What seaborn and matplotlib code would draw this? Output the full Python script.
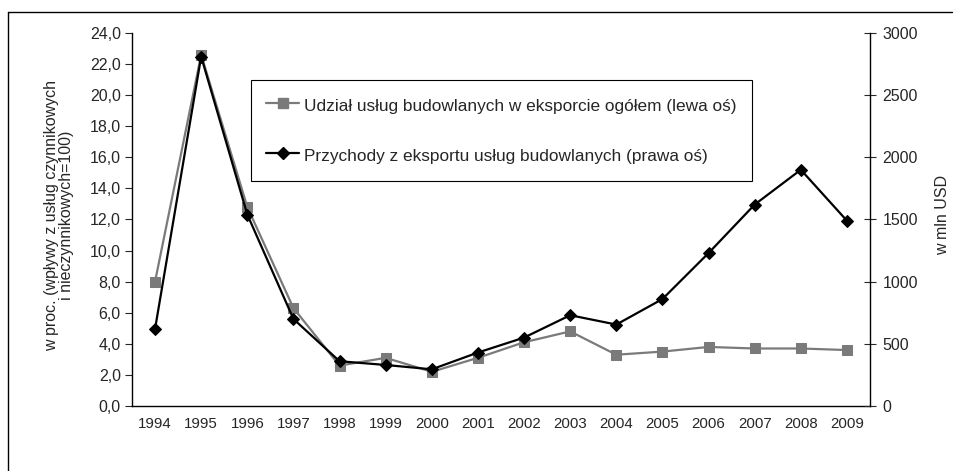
import matplotlib
matplotlib.use("Agg")
import matplotlib.pyplot as plt
import seaborn as sns
import pandas as pd
from matplotlib.lines import Line2D
from matplotlib.ticker import FuncFormatter, FixedLocator

years = [1994, 1995, 1996, 1997, 1998, 1999, 2000, 2001,
         2002, 2003, 2004, 2005, 2006, 2007, 2008, 2009]
share_pct = [8.0, 22.6, 12.8, 6.3, 2.6, 3.1, 2.2, 3.1,
             4.1, 4.8, 3.3, 3.5, 3.8, 3.7, 3.7, 3.6]
revenue_musd = [620, 2810, 1540, 700, 360, 330, 295, 430,
                550, 730, 655, 860, 1230, 1620, 1900, 1490]

label_share = "Udział usług budowlanych w eksporcie ogółem (lewa oś)"
label_rev = "Przychody z eksportu usług budowlanych (prawa oś)"

df = pd.DataFrame({"pos": range(len(years)), "year": years,
                   "share": share_pct, "revenue": revenue_musd})

sns.set_style("white")
plt.rcParams["font.family"] = ["Liberation Sans", "DejaVu Sans"]
plt.rcParams["font.size"] = 11.5

gray = "#7a7a7a"

fig = plt.figure(figsize=(9.55, 4.71), dpi=100)
ax = fig.add_axes([0.1382, 0.138, 0.7728, 0.792])
ax2 = ax.twinx()

sns.lineplot(data=df, x="pos", y="share", ax=ax, color=gray, marker="s",
             markersize=7, markeredgecolor=gray, linewidth=1.6, zorder=2)
sns.lineplot(data=df, x="pos", y="revenue", ax=ax2, color="black", marker="D",
             markersize=6.5, markeredgecolor="black", linewidth=1.6, zorder=3)

ax.set_xlim(-0.5, len(years) - 0.5)
ax.set_ylim(0, 24)
ax2.set_ylim(0, 3000)
ax.set_yticks([i * 2 for i in range(13)])
ax.yaxis.set_major_formatter(FuncFormatter(lambda v, p: f"{v:.1f}".replace(".", ",")))
ax2.set_yticks([0, 500, 1000, 1500, 2000, 2500, 3000])

ax.xaxis.set_major_locator(FixedLocator([i - 0.5 for i in range(len(years) + 1)]))
ax.xaxis.set_minor_locator(FixedLocator(list(range(len(years)))))
ax.set_xticklabels([], minor=False)
ax.set_xticklabels([str(y) for y in years], minor=True)
ax.tick_params(axis="x", which="major", direction="inout", length=8, width=0.8, colors="black")
ax.tick_params(axis="x", which="minor", length=0, pad=8, labelsize=10.8)
ax.tick_params(axis="y", direction="out", length=5, width=0.8, pad=3, left=True, labelsize=11.5)
ax2.tick_params(axis="y", direction="inout", length=8, width=0.8, pad=5, right=True, labelsize=11.5)

for a in (ax, ax2):
    for s in a.spines.values():
        s.set_visible(False)
ax.spines["left"].set_visible(True)
ax.spines["bottom"].set_visible(True)
ax2.spines["right"].set_visible(True)
for s in ("left", "bottom"):
    ax.spines[s].set_color("black")
    ax.spines[s].set_linewidth(1.0)
ax2.spines["right"].set_color("black")
ax2.spines["right"].set_linewidth(1.0)

ax.set_xlabel("")
ax.set_ylabel("w proc. (wpływy z usług czynnikowych\ni nieczynnikowych=100)",
              fontsize=11.5, linespacing=1.0)
ax.yaxis.set_label_coords(-0.078, 0.512)
ax2.set_ylabel("w mln USD", fontsize=11.5)
ax2.yaxis.set_label_coords(1.088, 0.512)

handles = [
    Line2D([], [], color=gray, marker="s", markersize=7, linewidth=1.6, markeredgecolor=gray),
    Line2D([], [], color="black", marker="D", markersize=6.5, linewidth=1.6),
]
leg = ax2.legend(handles, [label_share, label_rev], loc="upper left",
                 bbox_to_anchor=(0.161, 0.874), frameon=True, fancybox=False,
                 edgecolor="black", framealpha=1, fontsize=12.4,
                 handlelength=1.9, handletextpad=0.3, labelspacing=1.75,
                 handleheight=1.4, borderpad=0.9, borderaxespad=0)
leg.get_frame().set_linewidth(0.8)

# outer frame of the figure
fig.add_artist(Line2D([8 / 955, 952 / 955], [1 - 12 / 471, 1 - 12 / 471],
                      color="black", linewidth=1.0, transform=fig.transFigure))
fig.add_artist(Line2D([8 / 955, 8 / 955], [0, 1 - 12 / 471],
                      color="black", linewidth=1.0, transform=fig.transFigure))

fig.savefig("out.png", dpi=100)
